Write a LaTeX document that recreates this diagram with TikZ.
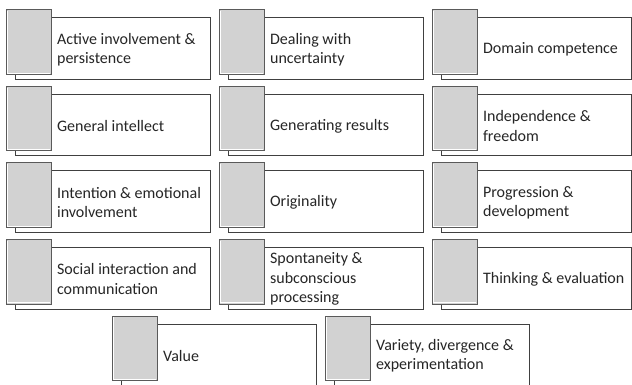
\documentclass[tikz,border=0pt]{standalone}
\usepackage{fontspec}
\setmainfont{Carlito}
\definecolor{boxline}{HTML}{404040}
\definecolor{tabline}{HTML}{5A5A5A}
\definecolor{tabfill}{HTML}{D2D2D2}
\definecolor{txt}{HTML}{262626}
\tikzset{
 box/.style={draw=boxline, fill=white, line width=0.9pt, minimum width=195pt, minimum height=61.5pt, inner sep=0pt, anchor=north west},
 tabbox/.style={draw=tabline, fill=tabfill, line width=0.9pt, minimum width=44.5pt, minimum height=64.5pt, inner sep=0pt, anchor=north west},
 hilite/.style={white, line width=1.3pt},
 lbl/.style={anchor=west, align=left, inner sep=0pt, text=txt, font=\fontsize{16}{19.5}\selectfont}
}
\newcommand\cellitem[5]{%
 \node[box, minimum width=#4] (#1box) at (#2,#3) {};
 \node[tabbox] (#1tab) at (#2-9,#3-8) {};
 \draw[hilite] ([shift={(1.6,1.6)}]#1tab.north west) -- ([shift={(1.6,-1.6)}]#1tab.south west) -- ([shift={(-1.6,-1.6)}]#1tab.south east);
 \node[lbl, xshift=5.5pt, yshift=-1pt] (#1lbl) at (#1tab.east |- #1box.west) {#5};
}
\begin{document}
\begin{tikzpicture}[x=1pt,y=-1pt]
\useasboundingbox[fill=white] (0,0) rectangle (632,385);
\cellitem{a}{15}{17.5}{195}{Active involvement \&\\persistence}
\cellitem{b}{228}{17.5}{195}{Dealing with\\uncertainty}
\cellitem{c}{441}{17.5}{190}{Domain competence}
\cellitem{d}{15}{94}{195}{General intellect}
\cellitem{e}{228}{94}{195}{Generating results}
\cellitem{f}{441}{94}{190}{Independence \&\\freedom}
\cellitem{g}{15}{170.5}{195}{Intention \& emotional\\involvement}
\cellitem{h}{228}{170.5}{195}{Originality}
\cellitem{i}{441}{170.5}{190}{Progression \&\\development}
\cellitem{j}{15}{247}{195}{Social interaction and\\communication}
\cellitem{k}{228}{247}{195}{Spontaneity \&\\subconscious\\processing}
\cellitem{l}{441}{247}{190}{Thinking \& evaluation}
\cellitem{m}{121}{323.5}{195}{Value}
\cellitem{n}{334}{323.5}{195}{Variety, divergence \&\\experimentation}
\end{tikzpicture}
\end{document}
